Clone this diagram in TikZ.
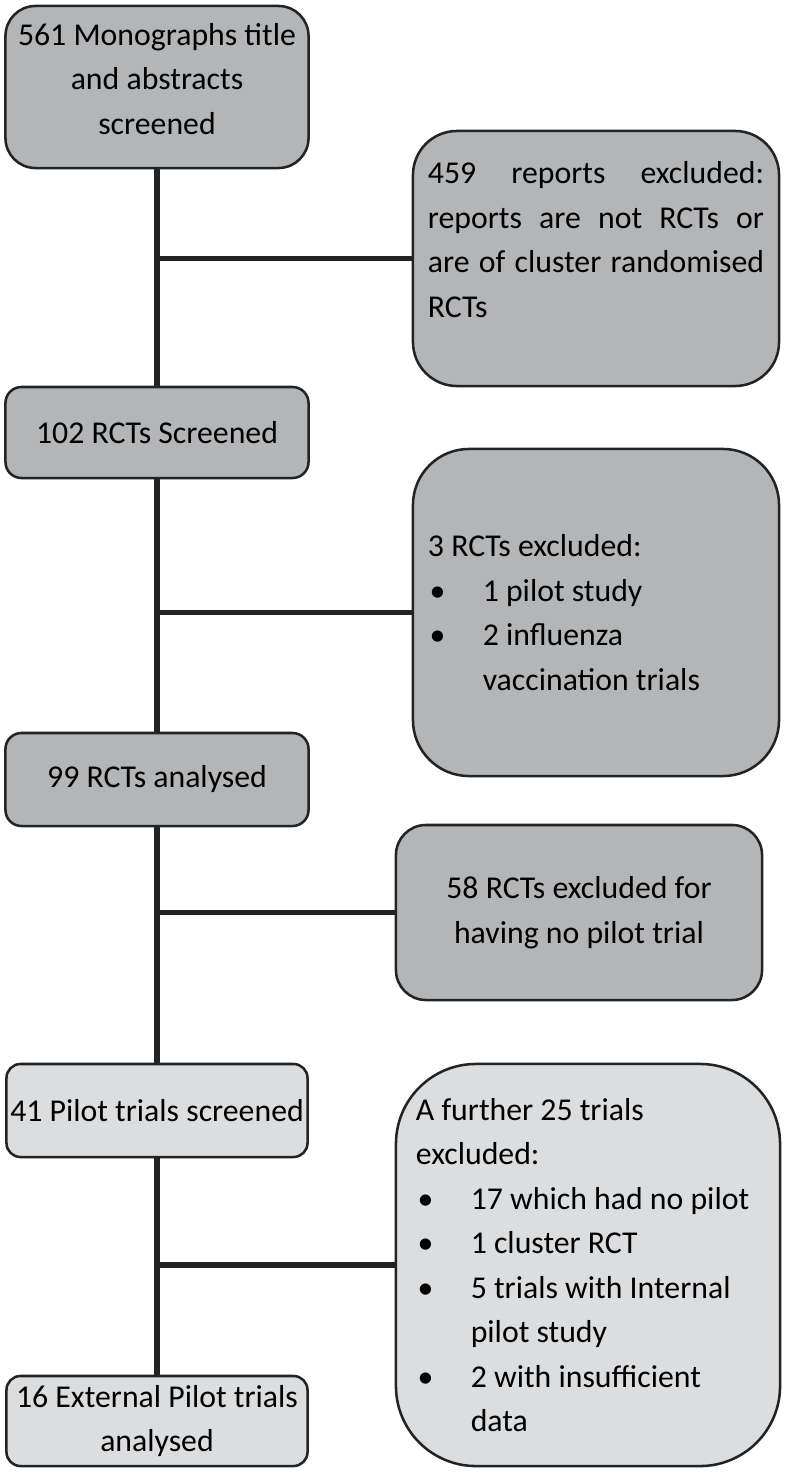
\documentclass[tikz,border=0pt]{standalone}
\usepackage{fontspec}
\setmainfont{Carlito}
\usetikzlibrary{positioning}
\definecolor{darkfill}{RGB}{180,181,183}
\definecolor{lightfill}{RGB}{220,221,223}
\definecolor{edgecol}{RGB}{35,35,35}
\tikzset{
    flowbox/.style={draw=edgecol,line width=1.8pt,inner sep=0pt,font=\fontsize{22.6pt}{31.6pt}\selectfont},
    darkbox/.style={flowbox,fill=darkfill},
    lightbox/.style={flowbox,fill=lightfill},
    trunk/.style={edgecol,line width=3.6pt},
}
\newcommand{\bul}{\makebox[1.37cm][l]{\hspace{0.04cm}\textbullet}}
\newcommand{\ind}{\hspace*{1.37cm}}

\begin{document}
\begin{tikzpicture}[x=0.025cm,y=-0.025cm]
    \useasboundingbox (0,0) rectangle (785,1473);
    % main column
    \node[darkbox,rounded corners=0.75cm,minimum width=7.575cm,minimum height=4.05cm,align=center] (mono) at (157,87) {561 Monographs title\\and abstracts\\screened\rule[-12pt]{0pt}{0pt}};
    \node[darkbox,rounded corners=0.4cm,minimum width=7.575cm,minimum height=2.275cm,align=center] (rcts) at (157,432.5) {102 RCTs Screened};
    \node[darkbox,rounded corners=0.4cm,minimum width=7.575cm,minimum height=2.325cm,align=center] (anal) at (157,779.5) {99 RCTs analysed};
    \node[lightbox,rounded corners=0.35cm,minimum width=7.525cm,minimum height=2.325cm,align=center] (pilot) at (157,1110.5) {41 Pilot trials screened};
    \node[lightbox,rounded corners=0.35cm,minimum width=7.525cm,minimum height=2.25cm,align=center] (ext) at (157,1421) {16 External Pilot trials\\analysed};
    % exclusions
    \node[darkbox,rounded corners=1.1cm,minimum width=9.15cm,minimum height=6.375cm,text width=8.4cm,align=justify] (exa) at (596,258.5) {459 reports excluded:\linebreak reports are not RCTs or\linebreak are of cluster randomised\linebreak RCTs\rule[-27pt]{0pt}{0pt}};
    \node[darkbox,rounded corners=1.4cm,minimum width=9.15cm,minimum height=8.175cm,text width=8.4cm,align=flush left] (exb) at (596,612.5) {3 RCTs excluded:\\\bul 1 pilot study\\\bul 2 influenza\\\ind vaccination trials};
    \node[darkbox,rounded corners=0.75cm,minimum width=9.15cm,minimum height=4.375cm,align=center] (exc) at (579,912.5) {58 RCTs excluded for\\having no pilot trial};
    \node[lightbox,rounded corners=2cm,minimum width=9.6cm,minimum height=10.05cm,text width=8.6cm,align=flush left] (exd) at (588,1265) {A further 25 trials\\excluded:\\\bul 17 which had no pilot\\\bul 1 cluster RCT\\\bul 5 trials with Internal\\\ind pilot study\\\bul 2 with insufficient\\\ind data};
    % connectors
    \draw[trunk] (mono) -- (rcts);
    \draw[trunk] (rcts) -- (anal);
    \draw[trunk] (anal) -- (pilot);
    \draw[trunk] (pilot) -- (ext);
    \draw[trunk] (exa.west) -- (exa.west -| mono.south);
    \draw[trunk] (exb.west) -- (exb.west -| rcts.south);
    \draw[trunk] (exc.west) -- (exc.west -| anal.south);
    \draw[trunk] (exd.west) -- (exd.west -| pilot.south);
\end{tikzpicture}
\end{document}
